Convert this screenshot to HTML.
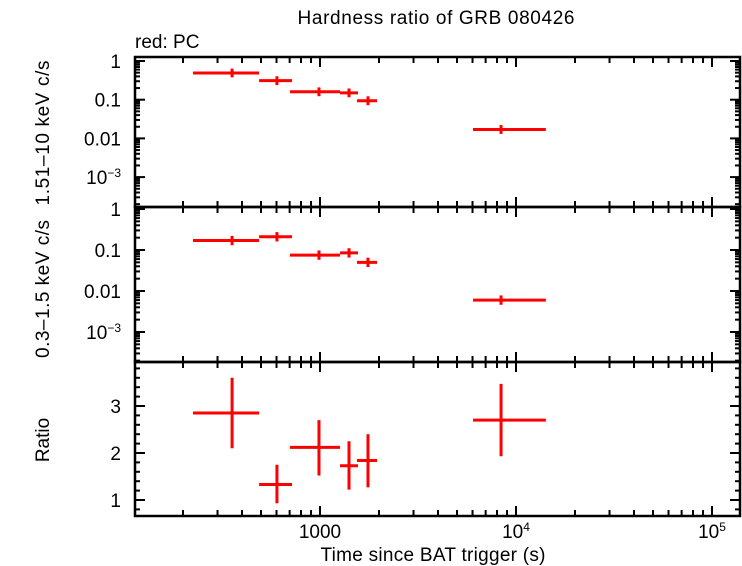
<!DOCTYPE html>
<html><head><meta charset="utf-8"><style>
body{margin:0;background:#fff}
svg{display:block;font-family:"Liberation Sans",sans-serif}
</style></head><body>
<svg id="c" width="742" height="566" viewBox="0 0 742 566">
<text x="436" y="24" font-size="19" text-anchor="middle" textLength="277">Hardness ratio of GRB 080426</text>
<text x="135" y="48" font-size="19">red: PC</text>
<text transform="translate(49,133) rotate(-90)" font-size="19" text-anchor="middle" textLength="145">1.51–10 keV c/s</text>
<text transform="translate(49,289) rotate(-90)" font-size="19" text-anchor="middle" textLength="138">0.3–1.5 keV c/s</text>
<text transform="translate(49,440) rotate(-90)" font-size="19" text-anchor="middle">Ratio</text>
<text x="433" y="561" font-size="19" text-anchor="middle" textLength="225">Time since BAT trigger (s)</text>
<g id="g"></g>
</svg>
<script>
const tMid=[356,603,988,1406,1757,8390];
const tLo=[225,489,703,1265,1544,6036];
const tHi=[489,720,1265,1563,1954,14200];
const hard=[0.49,0.31,0.16,0.15,0.094,0.017];
const soft=[0.17,0.21,0.075,0.085,0.05,0.006];
const ratio=[2.85,1.33,2.12,1.73,1.84,2.7];
const ratioLo=[2.1,0.93,1.52,1.22,1.27,1.93];
const ratioHi=[3.6,1.75,2.7,2.25,2.4,3.47];
const xTicks=["1000","10^4","10^5"];
const L=135,R=740;
const NS="http://www.w3.org/2000/svg";
const g=document.getElementById('g');
function X(t){return 320+(Math.log10(t)-3)*196;}
function mk(tag,a,p){const e=document.createElementNS(NS,tag);for(const k in a)e.setAttribute(k,a[k]);(p||g).appendChild(e);return e;}
const panels=[
 {top:57,bot:207,log:true,y1:61,dec:38.7,name:'hard'},
 {top:207,bot:362,log:true,y1:209,dec:41,name:'soft'},
 {top:362,bot:516,log:false,v0:3,y0:406,unit:47,name:'ratio'}];
function Y(p,v){return p.log?p.y1-Math.log10(v)*p.dec:p.y0-(v-p.v0)*p.unit;}
panels.forEach(p=>{
 const f=mk('rect',{x:L,y:p.top,width:R-L,height:p.bot-p.top,fill:'none',stroke:'#000','stroke-width':2.5});
 
 
 for(let d=2;d<=5;d++)for(let m=1;m<10;m++){
  const x=X(m*Math.pow(10,d)); if(x<=L||x>=R)continue;
  const len=m==1?10:6;
  mk('line',{x1:x,x2:x,y1:p.top,y2:p.top+len,stroke:'#000','stroke-width':2});
  mk('line',{x1:x,x2:x,y1:p.bot,y2:p.bot-len,stroke:'#000','stroke-width':2});
 }
 if(p.log){
  const labs=["1","0.1","0.01","10−3"];
  for(let d=0;d>=-4;d--)for(let m=1;m<10;m++){
   const y=Y(p,m*Math.pow(10,d)); if(y<p.top||y>p.bot)continue;
   const len=m==1?10:5;
   mk('line',{x1:L,x2:L+len,y1:y,y2:y,stroke:'#000','stroke-width':2});
   mk('line',{x1:R,x2:R-len,y1:y,y2:y,stroke:'#000','stroke-width':2});
  }
  labs.forEach((s,i)=>{
   const y=Y(p,Math.pow(10,-i));
   const t=mk('text',{x:121,y:y+7,'font-size':19,'text-anchor':'end'});
   
   
   if(i==3){t.textContent='10';const s2=mk('tspan',{dy:-7,'font-size':12},t);s2.textContent='−3';}
   else t.textContent=s;
  });
 } else {
  for(let v=0.6;v<4;v+=0.2){
   const y=Y(p,v); if(y<p.top||y>p.bot)continue;
   const maj=Math.abs(v-Math.round(v))<0.01;
   const len=maj?10:5;
   mk('line',{x1:L,x2:L+len,y1:y,y2:y,stroke:'#000','stroke-width':2});
   mk('line',{x1:R,x2:R-len,y1:y,y2:y,stroke:'#000','stroke-width':2});
  }
  [1,2,3].forEach(v=>{
   const t=mk('text',{x:121,y:Y(p,v)+7,'font-size':19,'text-anchor':'end'});
   
   
   t.textContent=v;
  });
 }
});
xTicks.forEach((s,i)=>{
 const x=X(Math.pow(10,3+i));
 const t=mk('text',{x:x,y:538,'font-size':19,'text-anchor':'middle'});
 
 
 if(s.indexOf('^')>0){const [b,e]=s.split('^');t.textContent=b;const sp=mk('tspan',{dy:-7,'font-size':12},t);sp.textContent=e;}
 else t.textContent=s;
});
function cross(p,i,v,lo,hi,name){
 const gg=mk('g',{stroke:'#ff0000','stroke-width':3});
 
 
 const y=Y(p,v);
 mk('line',{x1:X(tLo[i]),x2:X(tHi[i]),y1:y,y2:y},gg);
 mk('line',{x1:X(tMid[i]),x2:X(tMid[i]),y1:Y(p,hi),y2:Y(p,lo)},gg);
}
tMid.forEach((t,i)=>{
 cross(panels[0],i,hard[i],hard[i]/1.3,hard[i]*1.3,'hard-point');
 cross(panels[1],i,soft[i],soft[i]/1.3,soft[i]*1.3,'soft-point');
 cross(panels[2],i,ratio[i],ratioLo[i],ratioHi[i],'ratio-point');
});
</script>
</body></html>
